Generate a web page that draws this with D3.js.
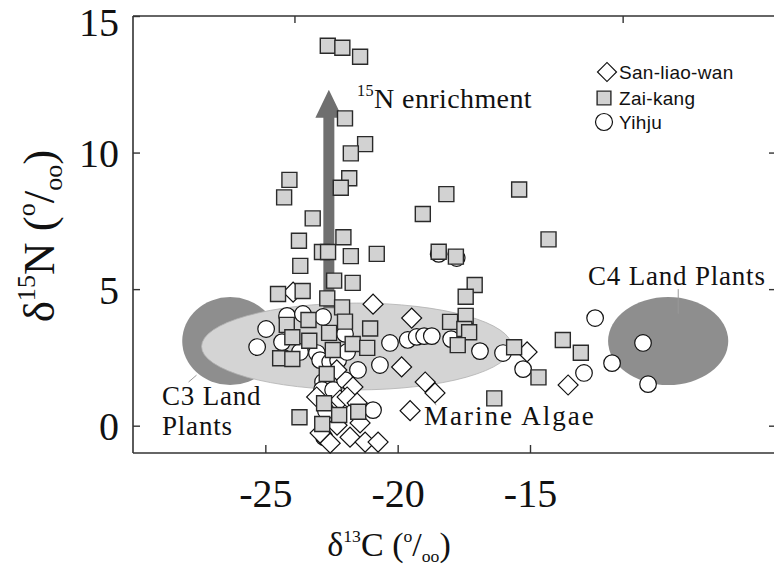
<!DOCTYPE html>
<html><head><meta charset="utf-8">
<script src="https://cdn.jsdelivr.net/npm/d3@7"></script>
<style>body{margin:0;background:#fff}</style>
</head><body><svg id="c" width="774" height="575"></svg>
<script>
// ---- data ----
const xTicks = [-25, -20, -15];
const yTicks = [0, 5, 10, 15];
const topTicks = [-23.9, -11.5];
const rightTicks = [0, 5, 10];
const seriesNames = ["San-liao-wan", "Zai-kang", "Yihju"];
// [d13C, d15N]
const sanLiaoWan = [[-23.95,4.89],[-20.93,4.45],[-19.47,3.94],[-19.85,2.15],[-18.96,1.60],[-18.59,1.20],[-19.53,0.55],[-15.11,2.70],[-13.56,1.49],[-22.30,2.04],[-23.06,1.05],[-22.18,0.94],[-22.93,-0.27],[-22.55,-0.64],[-21.69,1.42],[-21.91,1.05],[-21.42,0.10],[-21.80,-0.42],[-21.23,-0.60],[-20.74,-0.60],[-21.53,0.83],[-22.29,0.02]];
const zaiKang = [[-22.64,13.91],[-22.09,13.84],[-21.42,13.51],[-21.99,11.25],[-21.23,10.31],[-21.77,9.97],[-24.09,9.00],[-21.83,9.06],[-22.15,8.71],[-24.29,8.36],[-23.21,7.59],[-22.05,6.90],[-23.73,6.77],[-22.86,6.36],[-22.63,6.36],[-21.77,6.21],[-20.79,6.29],[-23.68,5.85],[-22.40,5.31],[-21.70,5.23],[-24.52,4.82],[-23.59,4.93],[-22.66,4.66],[-22.10,4.33],[-24.19,3.69],[-23.37,3.87],[-21.99,3.81],[-21.04,3.56],[-22.59,3.40],[-23.98,3.24],[-23.34,3.11],[-21.70,2.99],[-21.15,2.85],[-22.45,2.77],[-24.44,2.47],[-23.98,2.44],[-22.68,1.89],[-22.78,0.82],[-22.21,0.39],[-21.49,0.51],[-23.71,0.31],[-22.85,0.06],[-18.16,8.48],[-15.41,8.65],[-19.05,7.75],[-14.30,6.82],[-18.45,6.37],[-17.80,6.19],[-17.09,5.15],[-17.43,4.72],[-18.02,3.80],[-17.43,4.02],[-17.48,3.54],[-17.30,3.42],[-17.73,2.95],[-15.60,2.87],[-14.68,1.77],[-16.35,1.00],[-13.76,3.14],[-13.08,2.67]];
const yihju = [[-24.97,3.54],[-25.31,2.88],[-24.18,4.02],[-23.58,4.09],[-22.82,3.98],[-23.05,2.66],[-22.93,2.40],[-22.55,2.33],[-22.25,2.40],[-22.82,1.60],[-22.86,1.31],[-22.44,1.31],[-22.78,-0.42],[-21.91,2.70],[-21.50,2.04],[-21.99,1.67],[-20.67,2.22],[-20.29,3.03],[-20.93,0.57],[-19.62,3.14],[-19.28,3.25],[-19.00,3.28],[-18.71,3.28],[-17.98,3.17],[-16.89,2.73],[-16.02,2.66],[-15.26,2.07],[-18.45,6.29],[-17.77,6.14],[-12.54,3.94],[-10.73,3.03],[-11.90,2.29],[-12.96,1.93],[-10.54,1.52],[-24.37,3.06],[-21.99,3.36],[-22.71,0.54],[-23.69,2.70]];
// food-source regions: [centre d13C, centre d15N, radius d13C, radius d15N]
const c3Plants = [-26.33, 3.10, 1.81, 1.61];
const marineAlgae = [-21.55, 2.90, 5.86, 1.59];
const c4Plants = [-9.78, 3.10, 2.27, 1.61];
// 15N enrichment arrow: [d13C, from d15N, to d15N]
const enrichArrow = [-22.6, 4.3, 12.3];

// ---- drawing ----
const svg = d3.select("#c");
const x = d3.scaleLinear().domain([-30, -5.8]).range([133, 773.5]);
const y = d3.scaleLinear().domain([-1, 15]).range([453, 16]);
const serif = "'Liberation Serif','Times New Roman',serif";
const sans = "'Liberation Sans',Arial,sans-serif";

function ell(r, fill, stroke) {
  svg.append("ellipse")
    .attr("cx", x(r[0])).attr("cy", y(r[1]))
    .attr("rx", x(r[0] + r[2]) - x(r[0])).attr("ry", y(r[1]) - y(r[1] + r[3]))
    .attr("fill", fill).attr("stroke", stroke || "none").attr("stroke-width", 0.8);
}
ell(c3Plants, "#8e8e8e");
ell(marineAlgae, "#d4d4d4", "#b0b0b0");
ell(c4Plants, "#8e8e8e");

// leader lines
const leader = (x1, y1, x2, y2) => svg.append("line")
  .attr("x1", x(x1)).attr("y1", y(y1)).attr("x2", x(x2)).attr("y2", y(y2))
  .attr("stroke", "#999").attr("stroke-width", 1);
leader(-27.9, 1.6, -27.6, 1.85);
leader(-18.95, 1.55, -18.55, 0.75);
leader(-9.4, 5.0, -9.4, 4.1);

// arrow
{
  const ax = x(enrichArrow[0]), yb = y(enrichArrow[1]), yt = y(enrichArrow[2]);
  const headH = 28, headW = 13.5, shaftW = 5.5;
  svg.append("path")
    .attr("d", `M${ax - shaftW},${yb} L${ax - shaftW},${yt + headH} L${ax - headW},${yt + headH} L${ax},${yt} L${ax + headW},${yt + headH} L${ax + shaftW},${yt + headH} L${ax + shaftW},${yb} Z`)
    .attr("fill", "#6f6f6f");
}

// axes frame
const axCol = "#333";
const g = svg.append("g");
g.append("line").attr("x1", 133).attr("x2", 774).attr("y1", y(-1)).attr("y2", y(-1)).attr("stroke", axCol).attr("stroke-width", 1.6);
g.append("line").attr("x1", 133).attr("x2", 774).attr("y1", y(15)).attr("y2", y(15)).attr("stroke", axCol).attr("stroke-width", 1.6);
g.append("line").attr("x1", 133).attr("x2", 133).attr("y1", y(-1)).attr("y2", y(15)).attr("stroke", axCol).attr("stroke-width", 1.6);

const yAxis = d3.axisLeft(y).tickValues(yTicks).tickSize(-7).tickFormat(d3.format("d")).tickPadding(20);
const ya = svg.append("g").attr("transform", "translate(133,0)").call(yAxis);
ya.select(".domain").remove();
ya.selectAll("line").attr("stroke", axCol).attr("stroke-width", 1.4);
ya.selectAll("text").attr("font-family", serif).attr("font-size", 40).attr("fill", "#111").attr("x", -14)
  .attr("dy", d => d === 15 ? "0.48em" : "0.35em");

const xAxis = d3.axisBottom(x).tickValues(xTicks).tickSize(-8).tickFormat(d => d).tickPadding(0);
const xa = svg.append("g").attr("transform", `translate(0,${y(-1)})`).call(xAxis);
xa.select(".domain").remove();
xa.selectAll("line").attr("stroke", axCol).attr("stroke-width", 1.4);
xa.selectAll("text").attr("font-family", serif).attr("font-size", 40).attr("fill", "#111").attr("y", 54).attr("dy", 0);

const tAxis = d3.axisTop(x).tickValues(topTicks).tickSize(-7).tickFormat("");
const ta = svg.append("g").attr("transform", `translate(0,${y(15)})`).call(tAxis);
ta.select(".domain").remove();
ta.selectAll("line").attr("stroke", axCol).attr("stroke-width", 1.4);

const rAxis = d3.axisRight(y).tickValues(rightTicks).tickSize(-6).tickFormat("");
const ra = svg.append("g").attr("transform", "translate(775,0)").call(rAxis);
ra.select(".domain").remove();
ra.selectAll("line").attr("stroke", axCol).attr("stroke-width", 1.4);

// rich text helper
function rich(parent, segs, size, supScale) {
  const sc = supScale || 0.58;
  const t = parent.append("text").attr("font-family", serif).attr("font-size", size).attr("fill", "#111");
  let cur = 0;
  segs.forEach(s => {
    const off = s.sup ? -0.42 * size : s.sub ? 0.18 * size : 0;
    t.append("tspan").attr("dy", off - cur).attr("font-size", (s.sup || s.sub) ? size * sc : size).text(s.t);
    cur = off;
  });
  return t;
}
// axis titles
rich(svg.append("g").attr("transform", "translate(54,236) rotate(-90)"),
  [{t:"δ"},{t:"15",sup:true},{t:"N ("},{t:"o",sup:true},{t:"/"},{t:"oo",sub:true},{t:")"}], 45)
  .attr("text-anchor", "middle");
rich(svg.append("g").attr("transform", "translate(389,556)"),
  [{t:"δ"},{t:"13",sup:true},{t:"C ("},{t:"o",sup:true},{t:"/"},{t:"oo",sub:true},{t:")"}], 34, 0.52)
  .attr("text-anchor", "middle");

// points
const sq = d3.symbol().type(d3.symbolSquare).size(225)();
const dia = d3.symbol().type(d3.symbolSquare).size(200)();
svg.append("g").selectAll("circle").data(yihju).join("circle")
  .attr("cx", d => x(d[0])).attr("cy", d => y(d[1])).attr("r", 8.3)
  .attr("fill", "#fff").attr("stroke", "#111").attr("stroke-width", 1.2);
svg.append("g").selectAll("path").data(sanLiaoWan).join("path")
  .attr("d", dia).attr("transform", d => `translate(${x(d[0])},${y(d[1])}) rotate(45)`)
  .attr("fill", "#fff").attr("stroke", "#111").attr("stroke-width", 1.2);
svg.append("g").selectAll("path").data(zaiKang).join("path")
  .attr("d", sq).attr("transform", d => `translate(${x(d[0])},${y(d[1])})`)
  .attr("fill", "#d2d2d2").attr("stroke", "#2a2a2a").attr("stroke-width", 1.4);

// annotations
const ann = svg.append("g").attr("font-family", serif).attr("fill", "#111");
rich(svg.append("g").attr("transform", "translate(357,108)"), [{t:"15",sup:true},{t:"N enrichment"}], 28)
  .attr("letter-spacing", 0.4);
ann.append("text").attr("x", 588).attr("y", 285).attr("font-size", 27).attr("letter-spacing", 0.8).text("C4 Land Plants");
ann.append("text").attr("x", 162).attr("y", 405).attr("font-size", 27).attr("letter-spacing", 0.8).text("C3 Land");
ann.append("text").attr("x", 162).attr("y", 435).attr("font-size", 27).attr("letter-spacing", 0.8).text("Plants");
ann.append("text").attr("x", 424).attr("y", 425).attr("font-size", 27).attr("letter-spacing", 2).text("Marine Algae");

// legend
const lg = svg.append("g").attr("font-family", sans).attr("font-size", 19).attr("fill", "#111");
const legY = [72, 98, 122];
lg.append("path").attr("d", d3.symbol().type(d3.symbolSquare).size(180)()).attr("transform", `translate(607,${legY[0]}) rotate(45)`).attr("fill", "#fff").attr("stroke", "#111").attr("stroke-width", 1.2);
lg.append("path").attr("d", d3.symbol().type(d3.symbolSquare).size(190)()).attr("transform", `translate(604,${legY[1]})`).attr("fill", "#d2d2d2").attr("stroke", "#2a2a2a").attr("stroke-width", 1.4);
lg.append("circle").attr("cx", 604).attr("cy", legY[2]).attr("r", 8.5).attr("fill", "#fff").attr("stroke", "#111").attr("stroke-width", 1.2);
seriesNames.forEach((n, i) => lg.append("text").attr("x", 619).attr("y", legY[i] + 7).attr("letter-spacing", 0.3).text(n));
</script></body></html>
